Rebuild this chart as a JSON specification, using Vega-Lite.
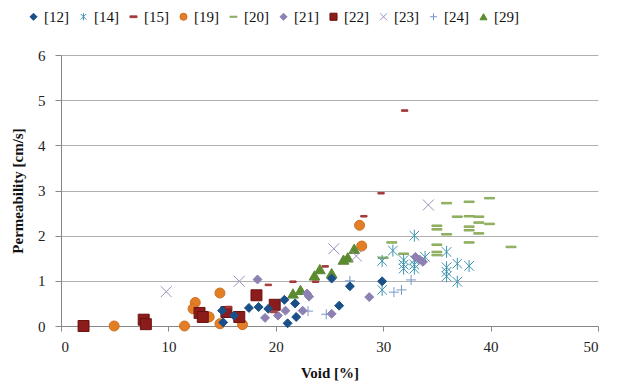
{
  "$schema": "https://vega.github.io/schema/vega-lite/v6.json",
  "width": 537,
  "height": 271,
  "autosize": {"type": "none"},
  "padding": {"left": 61, "top": 55, "right": 24, "bottom": 62},
  "background": "white",
  "config": {
    "font": "Liberation Serif",
    "view": {"stroke": null},
    "axis": {"labelFont": "Liberation Serif", "titleFont": "Liberation Serif", "labelFontSize": 15, "titleFontSize": 15, "labelColor": "#222", "titleColor": "#111", "domainColor": "#888", "tickColor": "#888", "gridColor": "#b0b0b0"},
    "legend": {"labelFont": "Liberation Serif"}
  },
  "data": {"values": [
    {"s": "[12]", "x": 15.0, "y": 0.34}, {"s": "[12]", "x": 15.1, "y": 0.08}, {"s": "[12]", "x": 16.1, "y": 0.23}, {"s": "[12]", "x": 17.5, "y": 0.4}, {"s": "[12]", "x": 18.4, "y": 0.42}, {"s": "[12]", "x": 19.3, "y": 0.38}, {"s": "[12]", "x": 20.8, "y": 0.58}, {"s": "[12]", "x": 21.8, "y": 0.5}, {"s": "[12]", "x": 21.1, "y": 0.06}, {"s": "[12]", "x": 21.9, "y": 0.2}, {"s": "[12]", "x": 25.2, "y": 1.05}, {"s": "[12]", "x": 25.9, "y": 0.45}, {"s": "[12]", "x": 26.9, "y": 0.88}, {"s": "[12]", "x": 29.9, "y": 0.99},
    {"s": "[14]", "x": 29.9, "y": 1.44}, {"s": "[14]", "x": 29.9, "y": 0.8}, {"s": "[14]", "x": 30.9, "y": 1.67}, {"s": "[14]", "x": 31.9, "y": 1.46}, {"s": "[14]", "x": 31.9, "y": 1.36}, {"s": "[14]", "x": 31.9, "y": 1.27}, {"s": "[14]", "x": 32.9, "y": 2.0}, {"s": "[14]", "x": 32.9, "y": 1.46}, {"s": "[14]", "x": 32.9, "y": 1.36}, {"s": "[14]", "x": 32.9, "y": 1.27}, {"s": "[14]", "x": 33.9, "y": 1.53}, {"s": "[14]", "x": 35.9, "y": 1.64}, {"s": "[14]", "x": 35.9, "y": 1.3}, {"s": "[14]", "x": 35.9, "y": 1.2}, {"s": "[14]", "x": 35.9, "y": 1.1}, {"s": "[14]", "x": 36.9, "y": 1.38}, {"s": "[14]", "x": 38.0, "y": 1.33}, {"s": "[14]", "x": 36.9, "y": 0.98},
    {"s": "[15]", "x": 15.6, "y": 0.42}, {"s": "[15]", "x": 19.3, "y": 0.91}, {"s": "[15]", "x": 19.8, "y": 0.31}, {"s": "[15]", "x": 21.6, "y": 0.98}, {"s": "[15]", "x": 23.7, "y": 0.98}, {"s": "[15]", "x": 24.6, "y": 1.32}, {"s": "[15]", "x": 28.2, "y": 2.43}, {"s": "[15]", "x": 29.8, "y": 2.94}, {"s": "[15]", "x": 32.0, "y": 4.77},
    {"s": "[19]", "x": 4.95, "y": 0.0}, {"s": "[19]", "x": 11.5, "y": 0.0}, {"s": "[19]", "x": 12.5, "y": 0.52}, {"s": "[19]", "x": 12.3, "y": 0.38}, {"s": "[19]", "x": 13.8, "y": 0.2}, {"s": "[19]", "x": 14.8, "y": 0.73}, {"s": "[19]", "x": 14.8, "y": 0.05}, {"s": "[19]", "x": 16.9, "y": 0.03}, {"s": "[19]", "x": 27.8, "y": 2.23}, {"s": "[19]", "x": 28.0, "y": 1.77},
    {"s": "[20]", "x": 35.9, "y": 2.72}, {"s": "[20]", "x": 38.0, "y": 2.75}, {"s": "[20]", "x": 39.9, "y": 2.83}, {"s": "[20]", "x": 36.9, "y": 2.42}, {"s": "[20]", "x": 38.0, "y": 2.43}, {"s": "[20]", "x": 38.9, "y": 2.42}, {"s": "[20]", "x": 38.9, "y": 2.29}, {"s": "[20]", "x": 39.9, "y": 2.26}, {"s": "[20]", "x": 35.0, "y": 2.22}, {"s": "[20]", "x": 35.0, "y": 2.14}, {"s": "[20]", "x": 38.0, "y": 2.2}, {"s": "[20]", "x": 38.0, "y": 2.12}, {"s": "[20]", "x": 35.9, "y": 2.03}, {"s": "[20]", "x": 38.9, "y": 2.05}, {"s": "[20]", "x": 38.0, "y": 1.85}, {"s": "[20]", "x": 30.8, "y": 1.85}, {"s": "[20]", "x": 35.0, "y": 1.8}, {"s": "[20]", "x": 35.0, "y": 1.64}, {"s": "[20]", "x": 35.0, "y": 1.57}, {"s": "[20]", "x": 31.9, "y": 1.6}, {"s": "[20]", "x": 30.0, "y": 1.51}, {"s": "[20]", "x": 41.9, "y": 1.75},
    {"s": "[21]", "x": 18.3, "y": 1.03}, {"s": "[21]", "x": 19.0, "y": 0.18}, {"s": "[21]", "x": 20.2, "y": 0.23}, {"s": "[21]", "x": 20.9, "y": 0.34}, {"s": "[21]", "x": 22.5, "y": 0.34}, {"s": "[21]", "x": 22.9, "y": 0.72}, {"s": "[21]", "x": 23.1, "y": 0.65}, {"s": "[21]", "x": 25.2, "y": 0.27}, {"s": "[21]", "x": 28.7, "y": 0.64}, {"s": "[21]", "x": 33.0, "y": 1.53}, {"s": "[21]", "x": 33.4, "y": 1.47}, {"s": "[21]", "x": 33.7, "y": 1.42},
    {"s": "[22]", "x": 2.1, "y": 0.0}, {"s": "[22]", "x": 7.7, "y": 0.14}, {"s": "[22]", "x": 7.9, "y": 0.04}, {"s": "[22]", "x": 12.9, "y": 0.29}, {"s": "[22]", "x": 13.2, "y": 0.2}, {"s": "[22]", "x": 15.4, "y": 0.31}, {"s": "[22]", "x": 16.6, "y": 0.2}, {"s": "[22]", "x": 18.2, "y": 0.68}, {"s": "[22]", "x": 19.9, "y": 0.47},
    {"s": "[23]", "x": 9.8, "y": 0.76}, {"s": "[23]", "x": 16.6, "y": 0.99}, {"s": "[23]", "x": 25.4, "y": 1.71}, {"s": "[23]", "x": 27.5, "y": 1.55}, {"s": "[23]", "x": 34.2, "y": 2.68},
    {"s": "[24]", "x": 23.0, "y": 0.33}, {"s": "[24]", "x": 24.7, "y": 0.26}, {"s": "[24]", "x": 26.9, "y": 1.0}, {"s": "[24]", "x": 31.0, "y": 0.75}, {"s": "[24]", "x": 31.7, "y": 0.8}, {"s": "[24]", "x": 32.6, "y": 1.02},
    {"s": "[29]", "x": 21.6, "y": 0.72}, {"s": "[29]", "x": 22.3, "y": 0.8}, {"s": "[29]", "x": 23.6, "y": 1.12}, {"s": "[29]", "x": 24.1, "y": 1.26}, {"s": "[29]", "x": 25.2, "y": 1.17}, {"s": "[29]", "x": 26.3, "y": 1.47}, {"s": "[29]", "x": 26.7, "y": 1.52}, {"s": "[29]", "x": 27.3, "y": 1.71}
  ]},
  "encoding": {
    "x": {"field": "x", "type": "quantitative", "scale": {"domain": [0, 50], "nice": false}, "axis": {"values": [0, 10, 20, 30, 40, 50], "grid": false, "tickSize": 5, "labelPadding": 8, "labelFont": "Liberation Serif", "title": "Void [%]", "titlePadding": 11, "titleFontWeight": "bold"}},
    "y": {"field": "y", "type": "quantitative", "scale": {"domain": [0, 6], "nice": false}, "axis": {"values": [0, 1, 2, 3, 4, 5, 6], "grid": true, "tickSize": 6, "labelPadding": 10, "labelFont": "Liberation Serif", "title": "Permeability [cm/s]", "titlePadding": 12, "titleFontWeight": "bold"}},
    "color": {"field": "s", "type": "nominal", "scale": {"domain": ["[12]", "[14]", "[15]", "[19]", "[20]", "[21]", "[22]", "[23]", "[24]", "[29]"], "range": ["#1b4f87", "#3f95b0", "#a33a3a", "#e37e26", "#9aba6a", "#8d80b2", "#8c1c1c", "#9b8fc0", "#7a97c8", "#5b8b30"]},
      "legend": {"orient": "none", "legendX": -35, "legendY": -46, "direction": "horizontal", "columns": 10, "title": null, "labelFont": "Liberation Serif", "labelFontSize": 15, "labelColor": "#111", "labelOffset": 3, "columnPadding": 7, "symbolSize": 50, "symbolStrokeWidth": 1}},
    "stroke": {"field": "s", "type": "nominal", "scale": {"domain": ["[12]", "[14]", "[15]", "[19]", "[20]", "[21]", "[22]", "[23]", "[24]", "[29]"], "range": ["#1b4f87", "#3f95b0", "#a33a3a", "#d07020", "#8aaa5a", "#8d80b2", "#6a1010", "#9b8fc0", "#7a97c8", "#5b8b30"]}},
    "shape": {"field": "s", "type": "nominal", "scale": {"domain": ["[12]", "[14]", "[15]", "[19]", "[20]", "[21]", "[22]", "[23]", "[24]", "[29]"], "range": ["diamond", "M0,-1V1M-0.8,-0.8L0.8,0.8M-0.8,0.8L0.8,-0.8", "M-1,-0.25H1V0.25H-1Z", "circle", "M-1,-0.15H1V0.15H-1Z", "diamond", "square", "M-1,-1L1,1M-1,1L1,-1", "M-1,0H1M0,-1V1", "triangle-up"]}}
  },
  "layer": [
    {"transform": [{"filter": {"field": "s", "oneOf": ["[20]"]}}], "mark": {"type": "point", "filled": true, "opacity": 1, "strokeWidth": 1, "size": 100}},
    {"transform": [{"filter": {"field": "s", "oneOf": ["[14]"]}}], "mark": {"type": "point", "filled": true, "opacity": 1, "strokeWidth": 1, "size": 144}},
    {"transform": [{"filter": {"field": "s", "oneOf": ["[19]", "[24]"]}}], "mark": {"type": "point", "filled": true, "opacity": 1, "strokeWidth": 1, "size": 100}},
    {"transform": [{"filter": {"field": "s", "oneOf": ["[29]"]}}], "mark": {"type": "point", "filled": true, "opacity": 1, "strokeWidth": 1, "size": 115}},
    {"transform": [{"filter": {"field": "s", "oneOf": ["[22]"]}}], "mark": {"type": "point", "filled": true, "opacity": 1, "strokeWidth": 1, "size": 120}},
    {"transform": [{"filter": {"field": "s", "oneOf": ["[23]"]}}], "mark": {"type": "point", "filled": true, "opacity": 1, "strokeWidth": 1, "size": 120}},
    {"transform": [{"filter": {"field": "s", "oneOf": ["[12]", "[21]"]}}], "mark": {"type": "point", "filled": true, "opacity": 1, "strokeWidth": 1, "size": 80}},
    {"transform": [{"filter": {"field": "s", "oneOf": ["[15]"]}}], "mark": {"type": "point", "filled": true, "opacity": 1, "strokeWidth": 1, "size": 40}}
  ]
}
